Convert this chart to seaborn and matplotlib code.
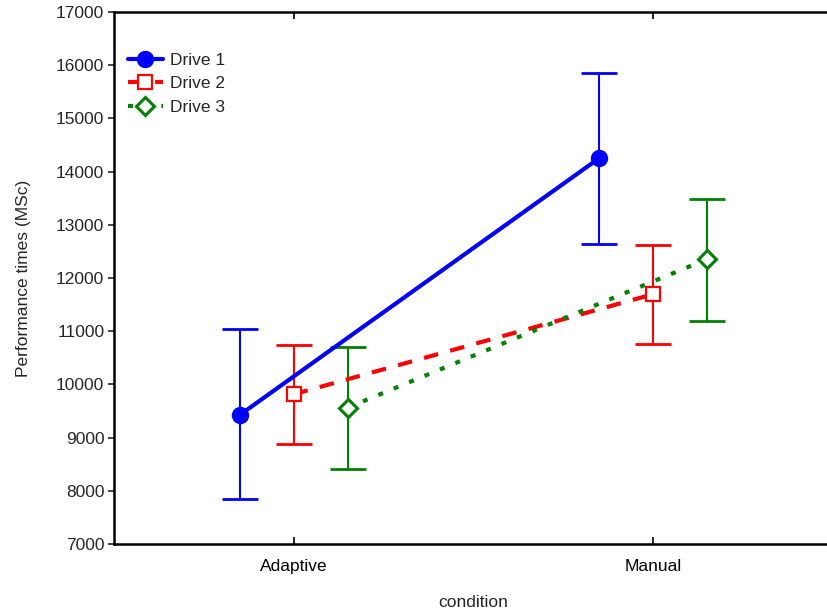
import matplotlib
matplotlib.use("Agg")
import matplotlib.pyplot as plt
import seaborn as sns
import numpy as np
import pandas as pd

categories = ["Adaptive", "Manual"]
series = ["Drive 1", "Drive 2", "Drive 3"]
means = {
    "Drive 1": [9425, 14250],
    "Drive 2": [9814, 11694],
    "Drive 3": [9562, 12352],
}
upper = {
    "Drive 1": [11041, 15848],
    "Drive 2": [10741, 12620],
    "Drive 3": [10709, 13491],
}
lower = {
    "Drive 1": [7840, 12645],
    "Drive 2": [8880, 10765],
    "Drive 3": [8410, 11192],
}
yticks = list(range(7000, 17001, 1000))

colors = {"Drive 1": "#0000ff", "Drive 2": "#ff0000", "Drive 3": "#008000"}
offsets = {"Drive 1": -0.15, "Drive 2": 0.0, "Drive 3": 0.15}

sns.set_style("white")
plt.rcParams["font.family"] = ["Liberation Sans", "DejaVu Sans"]
FS = 12.5

fig = plt.figure(figsize=(8.27, 6.16), dpi=100)
W, H = 827, 616
left, right, top, bottom = 114, 832.5, 12, 544
ax = fig.add_axes([left / W, 1 - bottom / H, (right - left) / W, (bottom - top) / H])

rows = []
for s in series:
    for i, c in enumerate(categories):
        rows.append({"series": s, "x": i + offsets[s], "y": means[s][i]})
df = pd.DataFrame(rows)

styles = {
    "Drive 1": dict(linestyle="-", marker="o", markersize=11, markerfacecolor="#0000ff",
                    markeredgecolor="#0000ff", markeredgewidth=1.5),
    "Drive 2": dict(linestyle=(0, (3.5, 3.0)), marker="s", markersize=10, markerfacecolor="white",
                    markeredgecolor="#ff0000", markeredgewidth=1.6),
    "Drive 3": dict(linestyle=(0, (1.2, 2.8)), marker="D", markersize=9.5, markerfacecolor="white",
                    markeredgecolor="#008000", markeredgewidth=2.2),
}

handles = []
for s in series:
    d = df[df["series"] == s]
    m = np.array(means[s])
    err = np.array([m - np.array(lower[s]), np.array(upper[s]) - m])
    ax.errorbar(d["x"], d["y"], yerr=err, fmt="none", ecolor=colors[s],
                elinewidth=1.5, capsize=13, capthick=2, zorder=2)
    sns.lineplot(data=d, x="x", y="y", ax=ax, color=colors[s], linewidth=3,
                 zorder=3, **styles[s])
    handles.append(ax.lines[-1])

ax.set_xlim(-0.5, 1.5)
ax.set_ylim(7000, 17000)
ax.set_xticks([0, 1])
ax.set_xticklabels(categories)
ax.set_yticks(yticks)
ax.set_yticklabels([str(t) for t in yticks])
ax.tick_params(axis="x", direction="in", length=5, width=1.2, top=True, bottom=True,
               labelsize=FS, pad=11, colors="black")
ax.tick_params(axis="y", direction="out", length=4, width=1.2, left=True,
               labelsize=FS, pad=3)
for sp in ax.spines.values():
    sp.set_linewidth(1.8)
    sp.set_color("black")
ax.set_xlabel("condition", fontsize=FS, labelpad=15)
ax.set_ylabel("Performance times (MSc)", fontsize=FS, labelpad=18)

leg = ax.legend(handles, series, loc="upper left", bbox_to_anchor=(0.0, 0.95),
                frameon=False, fontsize=FS, handlelength=2.0, labelspacing=0.5,
                handletextpad=0.4, borderaxespad=0.4)

fig.savefig("out.png", dpi=100)
